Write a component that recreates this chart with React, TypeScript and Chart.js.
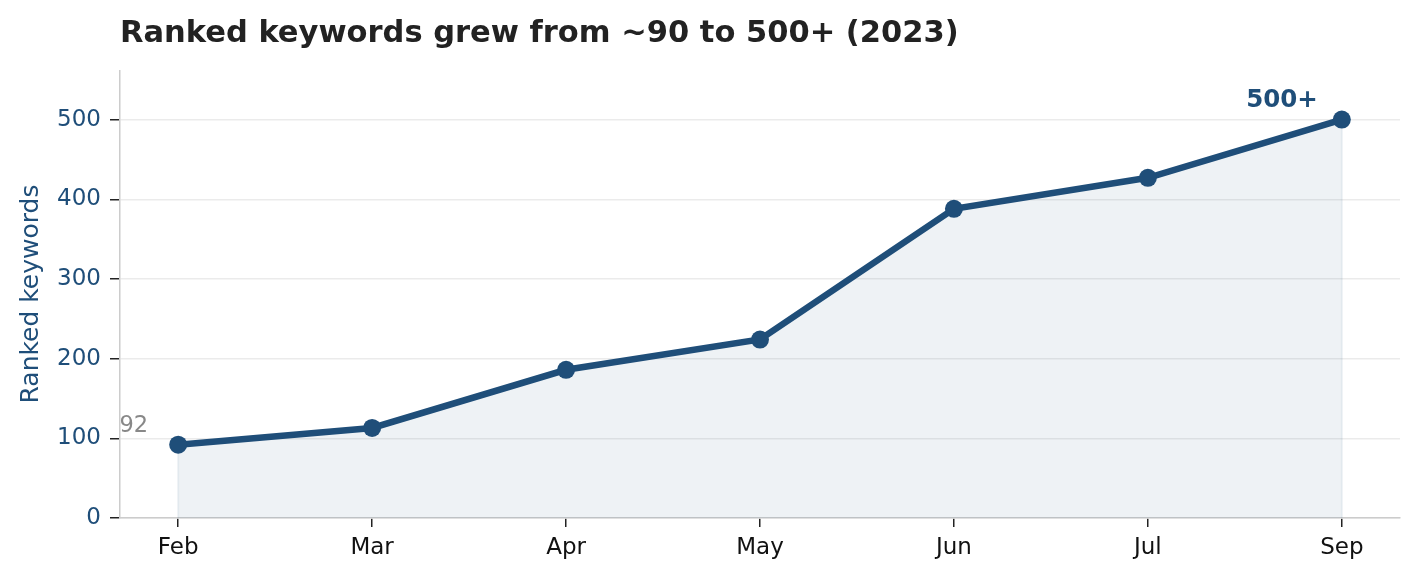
import React, { useEffect, useRef } from "react";
import { Chart, registerables } from "chart.js";

Chart.register(...registerables);

const months = ["Feb", "Mar", "Apr", "May", "Jun", "Jul", "Sep"];
const keywords = [92, 113, 186, 224, 388, 427, 500];
const yTicks = [0, 100, 200, 300, 400, 500];

const TITLE = "Ranked keywords grew from ~90 to 500+ (2023)";
const Y_TITLE = "Ranked keywords";
const FIRST_LABEL = "92";
const LAST_LABEL = "500+";

const BLUE = "#1f4e79";
const FONT = "'DejaVu Sans', sans-serif";

export default function App() {
  const ref = useRef<HTMLCanvasElement | null>(null);

  useEffect(() => {
    const canvas = ref.current;
    if (!canvas) return;

    const overlay = {
      id: "overlay",
      beforeDatasetsDraw(chart: any) {
        const ctx = chart.ctx;
        const xs = chart.scales.x;
        const ys = chart.scales.y;
        const n = keywords.length - 1;
        ctx.save();
        ctx.strokeStyle = "rgba(31,78,121,0.08)";
        ctx.lineWidth = 2;
        [0, n].forEach((i) => {
          const x = xs.getPixelForValue(i);
          ctx.beginPath();
          ctx.moveTo(x, ys.getPixelForValue(keywords[i]));
          ctx.lineTo(x, ys.getPixelForValue(0));
          ctx.stroke();
        });
        ctx.restore();
      },
      afterDraw(chart: any) {
        const ctx = chart.ctx;
        const xs = chart.scales.x;
        const ys = chart.scales.y;
        ctx.save();
        // title
        ctx.fillStyle = "#222222";
        ctx.font = `bold 30.5px ${FONT}`;
        ctx.textAlign = "left";
        ctx.textBaseline = "middle";
        ctx.fillText(TITLE, 120, 34);
        // y title
        ctx.save();
        ctx.translate(31, 294);
        ctx.rotate(-Math.PI / 2);
        ctx.fillStyle = BLUE;
        ctx.font = `25px ${FONT}`;
        ctx.textAlign = "center";
        ctx.textBaseline = "middle";
        ctx.fillText(Y_TITLE, 0, 0);
        ctx.restore();
        // first annotation
        const x0 = xs.getPixelForValue(0);
        const y0 = ys.getPixelForValue(keywords[0]);
        ctx.fillStyle = "#888888";
        ctx.font = `22.5px ${FONT}`;
        ctx.textAlign = "right";
        ctx.textBaseline = "middle";
        ctx.fillText(FIRST_LABEL, x0 - 30, y0 - 19);
        // last annotation
        const n = keywords.length - 1;
        const xn = xs.getPixelForValue(n);
        const yn = ys.getPixelForValue(keywords[n]);
        ctx.fillStyle = BLUE;
        ctx.font = `bold 24.5px ${FONT}`;
        ctx.textAlign = "right";
        ctx.fillText(LAST_LABEL, xn - 24, yn - 19);
        ctx.restore();
      },
    };

    const chart = new Chart(canvas, {
      type: "line",
      data: {
        datasets: [
          {
            data: keywords.map((v, i) => ({ x: i, y: v })),
            borderColor: BLUE,
            borderWidth: 6.5,
            pointBackgroundColor: BLUE,
            pointBorderColor: BLUE,
            pointRadius: 9,
            pointBorderWidth: 0,
            fill: "origin",
            backgroundColor: "rgba(31,78,121,0.075)",
            tension: 0,
          },
        ],
      },
      options: {
        responsive: false,
        animation: false,
        layout: { padding: { top: 71, right: 20, left: 0, bottom: 0 } },
        plugins: {
          legend: { display: false },
          tooltip: { enabled: false },
          title: { display: false },
        },
        scales: {
          x: {
            type: "linear",
            min: -0.3,
            max: 6.3,
            afterBuildTicks: (s: any) => {
              s.ticks = months.map((_, i) => ({ value: i }));
            },
            afterFit: (s: any) => {
              s.height = 62;
            },
            ticks: {
              callback: (v: any) => months[v as number] ?? "",
              color: "#111111",
              font: { family: FONT, size: 23 },
              padding: 7,
              maxRotation: 0,
              autoSkip: false,
            },
            grid: {
              drawOnChartArea: false,
              color: "#222222",
              tickColor: "#222222",
              tickLength: 9,
              lineWidth: 1.5,
            },
            border: { color: "#cccccc", width: 1.5 },
          },
          y: {
            min: 0,
            max: 561,
            afterBuildTicks: (s: any) => {
              s.ticks = yTicks.map((v) => ({ value: v }));
            },
            afterFit: (s: any) => {
              s.width = 120;
            },
            ticks: {
              color: BLUE,
              font: { family: FONT, size: 23 },
              padding: 9,
            },
            grid: {
              color: "#ebebeb",
              lineWidth: 1.5,
              tickColor: "#222222",
              tickLength: 10,
            },
            border: { color: "#cccccc", width: 1.5 },
          },
        },
      },
      plugins: [overlay],
    });

    return () => chart.destroy();
  }, []);

  return (
    <div style={{ position: "fixed", left: 0, top: 0, width: 1420, height: 580, background: "#fff" }}>
      <canvas ref={ref} width={1420} height={580} style={{ width: 1420, height: 580 }} />
    </div>
  );
}
